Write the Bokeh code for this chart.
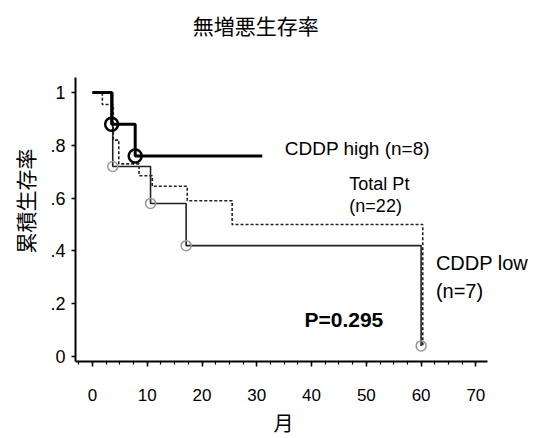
import math
from bokeh.plotting import figure
from bokeh.models import Label, SingleIntervalTicker, FixedTicker, Title
from bokeh.embed import file_html
from bokeh.resources import INLINE

# Kaplan-Meier step data (months, cumulative survival)
high_t = [0, 3.5, 7.8, 31.0]
high_s = [1.0, 0.88, 0.76, 0.76]
low_t = [0, 3.7, 10.6, 17.1, 60.0]
low_s = [1.0, 0.72, 0.58, 0.42, 0.04]
total_t = [0, 1.8, 3.8, 4.8, 8.5, 10.9, 17.3, 25.5, 60.3]
total_s = [1.0, 0.955, 0.82, 0.73, 0.685, 0.645, 0.59, 0.50, 0.04]

# marked points (circles)
high_mark_t = [3.5, 7.8]
high_mark_s = [0.88, 0.76]
low_mark_t = [3.7, 10.6, 17.1, 60.0]
low_mark_s = [0.72, 0.58, 0.42, 0.04]

y_ticks = [0, 0.2, 0.4, 0.6, 0.8, 1.0]
y_tick_labels = ["0", ".2", ".4", ".6", ".8", "1"]

title_text = "無増悪生存率"
y_label_text = "累積生存率"
x_label_text = "月"

X_AXIS = (-3.1, 72.2)
Y_AXIS = (-0.019, 1.059)

p = figure(width=540, height=438, output_backend="svg", toolbar_location=None,
           x_range=(-3.1, 81.8), y_range=(-0.019, 1.349),
           min_border_left=73, min_border_right=0, min_border_top=0,
           min_border_bottom=70, title=None)
p.background_fill_color = "white"
p.border_fill_color = "white"
p.outline_line_color = None
p.grid.visible = False

p.step(total_t, total_s, mode="after", line_color="#222222", line_width=1.6,
       line_dash="3 2")
p.step(low_t, low_s, mode="after", line_color="#222222", line_width=1.6)
p.step(high_t, high_s, mode="after", line_color="black", line_width=3)
p.scatter(low_mark_t, low_mark_s, marker="circle", size=10, fill_color=None,
          line_color="#999999", line_width=1.5)
p.scatter(high_mark_t, high_mark_s, marker="circle", size=13, fill_color=None,
          line_color="black", line_width=2.5)

cjk = "Noto Sans CJK JP"
lat = "Liberation Sans"

# axes
for ax in (p.xaxis, p.yaxis):
    ax.axis_line_width = 2
    ax.axis_line_color = "black"
    ax.major_tick_line_color = "black"
    ax.major_tick_line_width = 1.5
    ax.major_tick_in = 0
    ax.major_label_text_font = lat
    ax.major_label_text_color = "black"

p.xaxis.bounds = X_AXIS
p.yaxis.bounds = Y_AXIS

p.xaxis.ticker = SingleIntervalTicker(interval=10, num_minor_ticks=4)
p.xaxis.major_tick_out = 5
p.xaxis.minor_tick_out = 3
p.xaxis.minor_tick_in = 0
p.xaxis.minor_tick_line_color = "black"
p.xaxis.minor_tick_line_width = 1.2
p.xaxis.major_label_standoff = 22
p.xaxis.major_label_text_font_size = "17px"

p.yaxis.ticker = FixedTicker(ticks=y_ticks)
p.yaxis.major_label_overrides = {t: l for t, l in zip(y_ticks, y_tick_labels)}
p.yaxis.major_tick_out = 4
p.yaxis.minor_tick_line_color = None
p.yaxis.major_label_standoff = 6
p.yaxis.major_label_text_font_size = "18px"

# axis titles as side titles (so they can be offset along the axis)
p.add_layout(Title(text=y_label_text, text_font=cjk, text_font_size="21px",
                   text_font_style="normal", text_color="black",
                   align="left", offset=108, standoff=15), "left")
p.add_layout(Title(text=x_label_text, text_font=cjk, text_font_size="20px",
                   text_font_style="normal", text_color="black",
                   align="left", offset=198, standoff=4), "below")


def add_label(x, y, text, font, size, align="left", style="normal"):
    p.add_layout(Label(x=x, y=y, text=text, text_font=font,
                       text_font_size=size, text_align=align,
                       text_baseline="middle", text_font_style=style,
                       text_color="black"))


add_label(29.8, 1.2565, title_text, cjk, "21px", align="center")
add_label(35.1, 0.788, "CDDP high (n=8)", lat, "19px")
add_label(46.9, 0.654, "Total Pt", lat, "18px")
add_label(46.9, 0.569, "(n=22)", lat, "18px")
add_label(62.7, 0.353, "CDDP low", lat, "20px")
add_label(62.7, 0.249, "(n=7)", lat, "20px")
add_label(38.7, 0.141, "P=0.295", lat, "21px", style="bold")

open("out.html", "w").write(file_html(p, INLINE))
